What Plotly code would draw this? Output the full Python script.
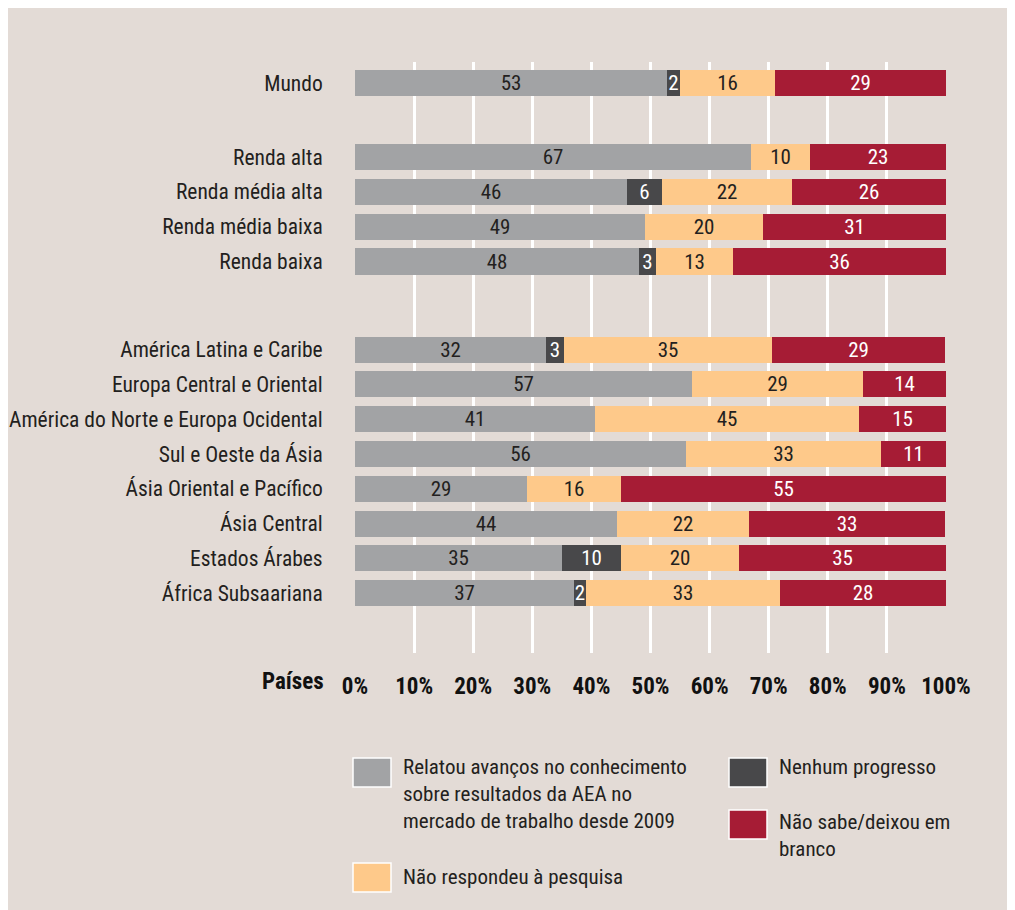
import plotly.graph_objects as go

# ---------------- data ----------------
categories = [
    "Mundo",
    "Renda alta", "Renda média alta", "Renda média baixa", "Renda baixa",
    "América Latina e Caribe", "Europa Central e Oriental",
    "América do Norte e Europa Ocidental", "Sul e Oeste da Ásia",
    "Ásia Oriental e Pacífico", "Ásia Central", "Estados Árabes",
    "África Subsaariana",
]
relatou = [52.8, 67.0, 46.0, 49.1, 48.1, 32.3, 57.0, 40.6, 56.0, 29.1, 44.4, 35.0, 37.1]
nenhum = [2.2, None, 5.9, None, 2.8, 3.1, None, None, None, None, None, 10.0, 2.0]
nao_respondeu = [16.1, 10.0, 22.0, 19.9, 13.1, 35.2, 29.0, 44.7, 33.0, 15.9, 22.2, 20.0, 32.8]
nao_sabe = [28.9, 23.0, 26.1, 31.0, 36.0, 29.2, 14.0, 14.7, 11.0, 55.0, 33.3, 35.0, 28.1]
x_ticks = [0, 10, 20, 30, 40, 50, 60, 70, 80, 90, 100]
x_tick_labels = ["0%", "10%", "20%", "30%", "40%", "50%", "60%", "70%", "80%", "90%", "100%"]

series_names = [
    ["Relatou avanços no conhecimento", "sobre resultados da AEA no", "mercado de trabalho desde 2009"],
    ["Nenhum progresso"],
    ["Não respondeu à pesquisa"],
    ["Não sabe/deixou em", "branco"],
]

# ---------------- layout helpers ----------------
gap_after = {0: 1.13, 4: 1.53}
ypos = []
cur = 0.0
for i in range(len(categories)):
    ypos.append(cur)
    cur += 1.0 + gap_after.get(i, 0.0)

BG = "#e3dbd6"
COLORS = ["#a2a3a5", "#48484a", "#fec98a", "#a61c35"]
TXT = ["#231f20", "#ffffff", "#231f20", "#ffffff"]
FONT = "Roboto Condensed, Roboto, sans-serif"

OFF = 8  # page body margin
W, H = 1015, 910 - OFF
L = 355 - OFF
R = W - (946 - OFF)
T = 62 - OFF
B = H - (653 - OFF)
plot_h = H - T - B
unit_px = 34.8
span = plot_h / unit_px
top = -(83 - 62) / unit_px

fig = go.Figure()
for vals, names, col, tc in zip([relatou, nenhum, nao_respondeu, nao_sabe], series_names, COLORS, TXT):
    fig.add_trace(go.Bar(
        y=ypos, x=vals, orientation="h", name=" ".join(names),
        marker=dict(color=col, line=dict(width=0)),
        width=0.75,
        texttemplate="%{x:.0f}", textposition="inside",
        insidetextanchor="middle", textangle=0,
        textfont=dict(color=tc, size=21, family=FONT),
        showlegend=False, hoverinfo="skip",
    ))

fig.update_layout(
    width=W, height=H,
    barmode="stack",
    bargap=0,
    paper_bgcolor=BG,
    plot_bgcolor=BG,
    margin=dict(l=L, r=R, t=T, b=B, pad=0, autoexpand=False),
    uniformtext=dict(minsize=21, mode="show"),
    font=dict(family=FONT, color="#231f20"),
    xaxis=dict(
        range=[0, 100], tickvals=x_ticks, ticktext=x_tick_labels,
        showgrid=True, gridcolor="white", gridwidth=2.5,
        zeroline=False, showline=False, automargin=False,
        ticks="outside", ticklen=12, tickcolor="rgba(0,0,0,0)",
        tickfont=dict(family=FONT, size=23, color="#111111", weight="bold"),
        fixedrange=True,
    ),
    yaxis=dict(
        range=[top + span, top], tickvals=ypos, ticktext=categories,
        showgrid=False, zeroline=False, showline=False, automargin=False,
        ticks="outside", ticklen=27, tickcolor="rgba(0,0,0,0)",
        tickfont=dict(family=FONT, size=21.5, color="#231f20"),
        fixedrange=True,
    ),
)

def py(pixel_y):
    return 1 - (pixel_y - 62) / plot_h

def px(pixel_x):
    return (pixel_x - 355) / (W - L - R)

fig.add_annotation(xref="paper", yref="paper", x=px(326), y=py(681),
                   text="<b>Países</b>", showarrow=False, xanchor="right", yanchor="middle",
                   font=dict(family=FONT, size=23, color="#111111"))

# custom legend: (series index, square x, square y, first text line y)
legend_items = [
    (0, 353, 758, 767),
    (1, 729, 758, 767),
    (3, 729, 810, 822),
    (2, 353, 863, 877),
]
for idx, sx, sy, ty in legend_items:
    fig.add_shape(type="rect", xref="paper", yref="paper",
                  x0=px(sx), x1=px(sx + 38), y0=py(sy + 29), y1=py(sy),
                  fillcolor=COLORS[idx], line=dict(color="white", width=1.5))
    for k, line in enumerate(series_names[idx]):
        fig.add_annotation(xref="paper", yref="paper", x=px(sx + 48), y=py(ty + 27 * k),
                           text=line, showarrow=False, xanchor="left", yanchor="middle",
                           align="left",
                           font=dict(family=FONT, size=21, color="#231f20"))

fig.write_html("out.html")
